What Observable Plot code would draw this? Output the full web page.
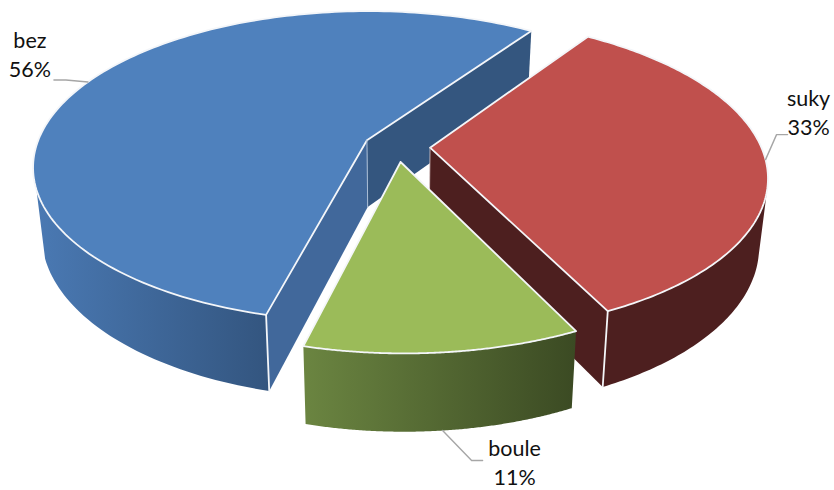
<!DOCTYPE html>
<html>
<head>
<meta charset="utf-8">
<script src="https://cdn.jsdelivr.net/npm/d3@7"></script>
<script src="https://cdn.jsdelivr.net/npm/@observablehq/plot@0.6"></script>
<style>
  html, body { margin: 0; padding: 0; background: #fff; }
  svg { display: block; }
</style>
</head>
<body>
<div id="chart"></div>
<script>
// Counts per category, clockwise from the first slice; labels show the rounded percent.
const names = ["bez", "suky", "boule"];
const counts = [5, 3, 1];
const topColors = ["#4f81bd", "#c0504d", "#9bbb59"];
const wallFills = ["url(#wall-bez)", "#4d1f1f", "url(#wall-boule)"];
const cutFaceColors = ["#41689b", "#4d1f1f", "#5c7236"];
const backFaceColor = "#34567f";

// Leader elbow and label offsets from each slice's rim anchor, in pixels.
const leaderOffsets = [[[-22, -2], [-34, -2]], [[11, -25], [22, -25]], [[29, 30], [40, 30]]];
const labelOffsets = [[-58, -28.5], [43, -48.5], [72, 30.5]];

// Pie camera: projects the ground plane (u right, v towards the viewer) to the page.
const cam = {cx: 396.5, cy: 146, a: 331, b: 153, k: 0.17, skew: 2.8, shrink: 0.976, explode: 0.1, start: 194.4};
const wallCutoff = 0.25;
const toRad = (deg) => (deg * Math.PI) / 180;
const total = d3.sum(counts);

function project(u, v) {
  const w = 1 - cam.k * v;
  return [cam.cx + (cam.a * u) / w + cam.skew * v, cam.cy + (cam.b * v) / w];
}
function projectBase(u, v) {
  const [x, y] = project(u, v);
  return [cam.cx + (x - cam.cx) * cam.shrink, y + 67 + 7 * v + 3 * v * v];
}

// Turn each count into angular extents.
let cursor = cam.start;
const slices = names.map((name, i) => {
  const a0 = cursor;
  const a1 = cursor + (counts[i] * 360) / total;
  cursor = a1;
  const mid = toRad((a0 + a1) / 2);
  return {name, i, a0, a1, ox: cam.explode * Math.sin(mid), oy: -cam.explode * Math.cos(mid), mid};
});

const ground = (s, deg) => [s.ox + Math.sin(toRad(deg)), s.oy - Math.cos(toRad(deg))];
const arc = (s, from, to, n = 160) => d3.range(n + 1).map((j) => ground(s, from + ((to - from) * j) / n));
const polygon = (pts) => pts.map(([x, y]) => ({x, y}));

function poly(points, fill) {
  return Plot.line(polygon(points), {x: "x", y: "y", fill, stroke: "none", curve: "linear"});
}
function edge(points, width = 1.8, color = "#f4f6f9") {
  return Plot.line(polygon(points), {x: "x", y: "y", stroke: color, strokeWidth: width, curve: "linear"});
}

const marks = [];

// Gradients for the outer walls.
marks.push(() => {
  const ns = "http://www.w3.org/2000/svg";
  const defs = document.createElementNS(ns, "defs");
  const stops = {"wall-bez": ["#4a79b3", "#33557f"], "wall-boule": ["#6b8541", "#3b4a23"]};
  for (const [id, [c0, c1]] of Object.entries(stops)) {
    const g = document.createElementNS(ns, "linearGradient");
    g.setAttribute("id", id);
    [[0, c0], [1, c1]].forEach(([o, c]) => {
      const st = document.createElementNS(ns, "stop");
      st.setAttribute("offset", o);
      st.setAttribute("stop-color", c);
      g.appendChild(st);
    });
    defs.appendChild(g);
  }
  return defs;
});

// Back to front: bez, suky, boule.
slices.forEach((s) => {
  const apex = [s.ox, s.oy];
  const gStart = ground(s, s.a0);
  const gEnd = ground(s, s.a1);
  const top = [apex, ...arc(s, s.a0, s.a1), apex].map(([u, v]) => project(u, v));

  // Cut faces that turn towards the viewer.
  if (s.name === "bez") {
    marks.push(poly([project(...apex), project(...gEnd), projectBase(...gEnd), projectBase(...apex)], backFaceColor));
    marks.push(poly([project(...apex), project(...gStart), projectBase(...gStart), projectBase(...apex)], cutFaceColors[0]));
  }
  if (s.name === "suky") {
    marks.push(poly([project(...apex), project(...gEnd), projectBase(...gEnd), projectBase(...apex)], cutFaceColors[1]));
  }

  // Outer wall: only the part of the rim facing the viewer.
  const rim = arc(s, s.a0, s.a1).filter(([u, v]) => v >= wallCutoff);
  const wall = [...rim.map(([u, v]) => project(u, v)), ...rim.slice().reverse().map(([u, v]) => projectBase(u, v))];
  marks.push(poly(wall, wallFills[s.i]));

  // Top surface with its light outline.
  marks.push(poly(top, topColors[s.i]));
  marks.push(edge(top));

  // Vertical edges at the cut corners.
  if (s.name === "bez") {
    marks.push(edge([project(...gStart), projectBase(...gStart)]));
    marks.push(edge([project(...apex), projectBase(...apex)], 1, "#a9bdd6"));
  }
  if (s.name === "suky") {
    marks.push(edge([project(...gEnd), projectBase(...gEnd)]));
    marks.push(edge([project(...apex), projectBase(...apex)], 0.8, "#d8c9c9"));
  }
});

// Leader lines start on the rim at each slice's bisector.
const labelRows = slices.map((s) => {
  const g = [s.ox + Math.sin(s.mid), s.oy - Math.cos(s.mid)];
  const anchor = s.name === "boule" ? projectBase(...g) : project(...g);
  const pts = [anchor, ...leaderOffsets[s.i].map(([dx, dy]) => [anchor[0] + dx, anchor[1] + dy])];
  marks.push(Plot.line(polygon(pts), {x: "x", y: "y", stroke: "#a6a6a6", strokeWidth: 1.4, curve: "linear"}));
  return {
    x: anchor[0] + labelOffsets[s.i][0],
    y: anchor[1] + labelOffsets[s.i][1],
    text: `${s.name}\n${Math.round((counts[s.i] / total) * 100)}%`
  };
});

marks.push(Plot.text(labelRows, {
  x: "x", y: "y", text: "text",
  fontFamily: "Lato", fontSize: 21.5, fill: "#111", lineHeight: 1.36, textAnchor: "middle"
}));

const chart = Plot.plot({
  width: 834,
  height: 490,
  margin: 0,
  x: {domain: [0, 834], range: [0, 834], axis: null},
  y: {domain: [0, 490], range: [0, 490], axis: null},
  style: {background: "#fff"},
  marks
});
document.getElementById("chart").appendChild(chart);
</script>
</body>
</html>
